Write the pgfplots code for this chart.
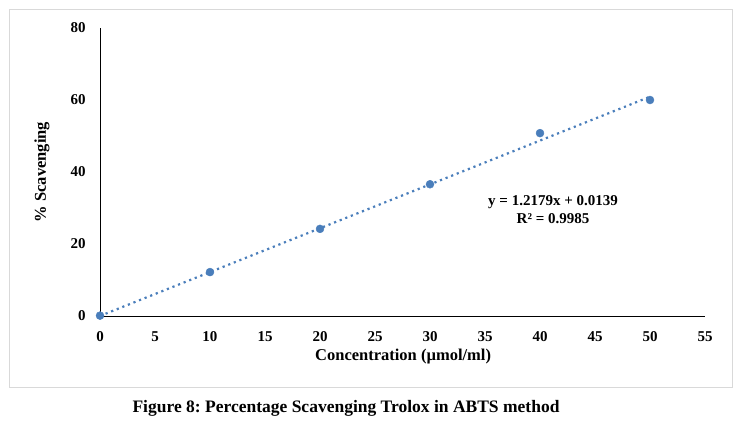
\documentclass[border=0pt]{standalone}
\usepackage{fontspec}
\setmainfont{Liberation Serif}
\usepackage{pgfplots}
\pgfplotsset{compat=1.18}
\definecolor{ptblue}{HTML}{4A7EBB}
\definecolor{boxgray}{HTML}{D9D9D9}
\frenchspacing
\begin{document}
\begin{tikzpicture}[x=1pt,y=1pt]
\path[use as bounding box] (0,0) rectangle (742,428);
\draw[boxgray, line width=0.8pt] (9,41) rectangle (732,419);
\begin{axis}[
  at={(100pt,112pt)}, anchor=south west,
  scale only axis, width=605pt, height=288pt,
  xmin=0, xmax=55, ymin=0, ymax=80,
  xtick={0,5,...,55}, ytick={0,20,...,80},
  axis x line=bottom, axis y line=left,
  axis line style={-, line width=0.9pt},
  tick style={draw=none},
  /pgf/number format/assume math mode=true,
  ticklabel style={font=\fontsize{15}{17}\selectfont\bfseries, inner sep=0pt},
  xticklabel style={anchor=base, yshift=-23pt},
  yticklabel style={anchor=east, xshift=-12pt},
  xlabel={Concentration (µmol/ml)},
  ylabel={\% Scavenging},
  label style={font=\fontsize{16.5}{19}\selectfont\bfseries},
  xlabel style={at={(axis description cs:0.501,-0.142)}, anchor=center},
  ylabel style={at={(axis description cs:-0.096,0.5)}, anchor=center},
  clip=false,
]
\addplot[ptblue, line width=2.2pt, dash pattern=on 2.2pt off 3.8pt] coordinates {
  (0,0.0139) (50,60.9089)
};
\addplot[only marks, mark=*, mark size=4pt, ptblue] coordinates {
  (0,0.1) (10,12.2) (20,24.2) (30,36.6) (40,50.8) (50,60.0)
};
\end{axis}
\node[font=\fontsize{15}{18}\selectfont\bfseries, align=center] at (553,218) {y = 1.2179x + 0.0139\\R² = 0.9985};
\node[font=\fontsize{17.5}{20}\selectfont\bfseries] at (346,20) {Figure 8: Percentage Scavenging Trolox in ABTS method};
\end{tikzpicture}
\end{document}
